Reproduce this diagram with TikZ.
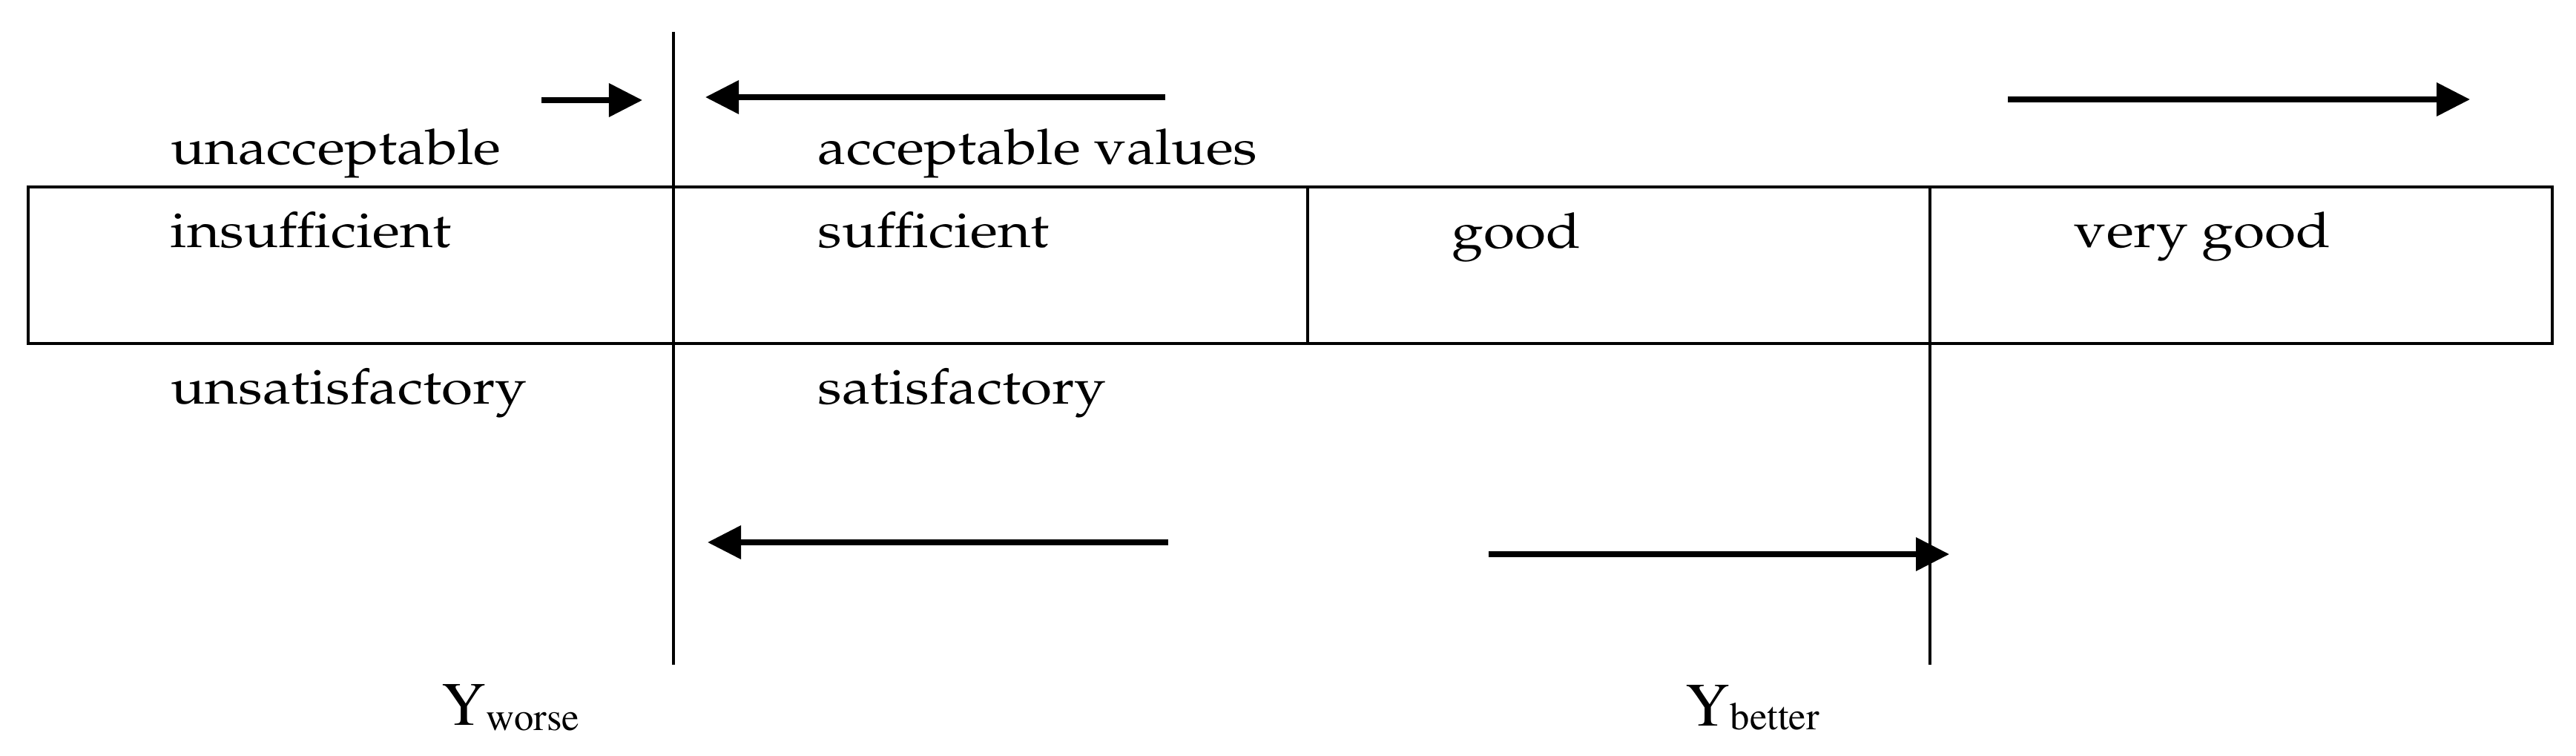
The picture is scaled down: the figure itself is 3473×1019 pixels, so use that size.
\documentclass[tikz,border=0pt]{standalone}
\usepackage[T1]{fontenc}
\usepackage{graphicx}
\usetikzlibrary{arrows.meta}
\newcommand{\palfont}{\fontfamily{ppl}\fontsize{18.8}{22}\selectfont}
\newcommand{\timesY}{\fontfamily{ptm}\fontsize{23.6}{28}\selectfont}
\newcommand{\timesSub}{\fontfamily{ptm}\fontsize{15}{18}\selectfont}
\newcommand{\sx}[1]{\scalebox{1.16}[1]{#1}}
\begin{document}
\begin{tikzpicture}[x=0.01cm,y=-0.01cm,
  lbl/.style={anchor=base west,inner sep=0pt,font=\palfont},
  ylbl/.style={anchor=base west,inner sep=0pt,font=\timesY},
  frame/.style={draw=black,line width=1pt},
  rule/.style={draw=black,line width=1pt},
  arr/.style={draw=black,line width=2pt,-{Triangle[length=0.45cm,width=0.44cm]}}]
\useasboundingbox[fill=white] (0,0) rectangle (3473,1019);
% box
\draw[frame] (38,252) rectangle (3441,463);
% dividers
\coordinate (wt) at (908,43);
\coordinate (wb) at (908,896);
\coordinate (mt) at (1763,252);
\coordinate (mb) at (1763,463);
\coordinate (bt) at (2602,252);
\coordinate (bb) at (2602,896);
\draw[rule] (wt) -- (wb);
\draw[rule] (mt) -- (mb);
\draw[rule] (bt) -- (bb);
% labels
\node[lbl] (unacc) at (230,222) {\sx{unacceptable}};
\node[lbl] (acc) at (1102,222) {\sx{acceptable values}};
\node[lbl] (insuf) at (229,334) {\sx{insufficient}};
\node[lbl] (suf) at (1102,334) {\sx{sufficient}};
\node[lbl] (good) at (1957,335) {\sx{good}};
\node[lbl] (vgood) at (2796,334) {\sx{very good}};
\node[lbl] (unsat) at (230,545) {\sx{unsatisfactory}};
\node[lbl] (sat) at (1102,545) {\sx{satisfactory}};
\node[ylbl] (yw) at (595,977) {Y\raisebox{-0.07cm}{\timesSub worse}};
\node[ylbl] (yb) at (2272,978) {Y\raisebox{-0.05cm}{\timesSub better}};
% arrows
\coordinate (a1s) at (730,135);  \coordinate (a1e) at (866,135);
\coordinate (a2s) at (1571,131); \coordinate (a2e) at (951,131);
\coordinate (a3s) at (2707,134); \coordinate (a3e) at (3330,134);
\coordinate (a4s) at (1575,731); \coordinate (a4e) at (954,731);
\coordinate (a5s) at (2007,747); \coordinate (a5e) at (2628,747);
\draw[arr] (a1s) -- (a1e);
\draw[arr] (a2s) -- (a2e);
\draw[arr] (a3s) -- (a3e);
\draw[arr] (a4s) -- (a4e);
\draw[arr] (a5s) -- (a5e);
\end{tikzpicture}
\end{document}
